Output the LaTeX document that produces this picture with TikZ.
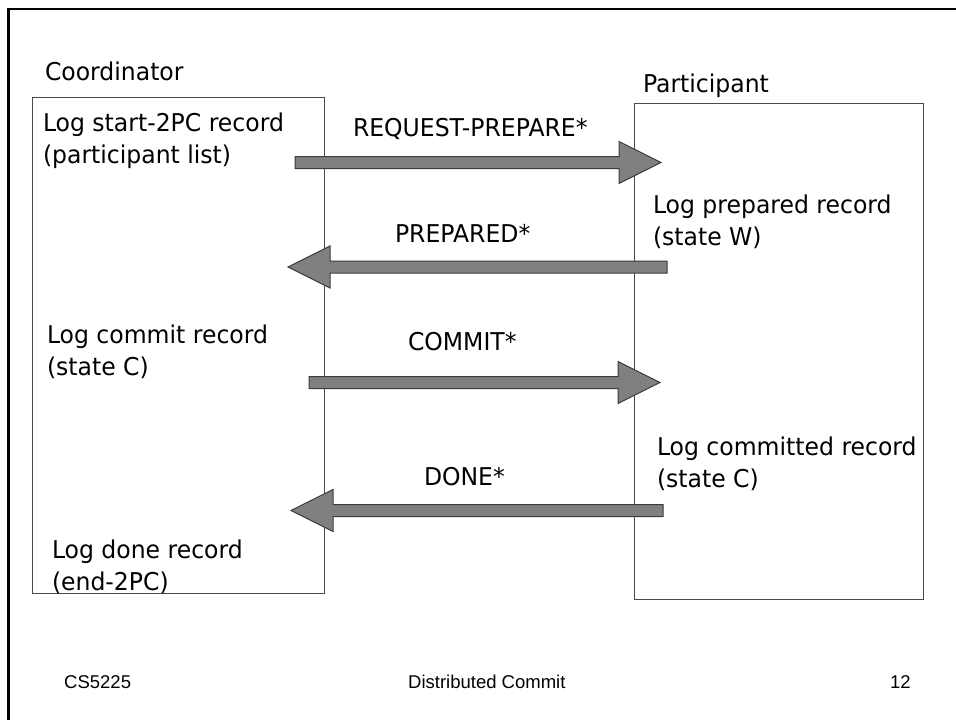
\documentclass[tikz,border=0pt]{standalone}
\usepackage{fontspec}
\setmainfont{DejaVu Sans}[FakeStretch=0.96]
\newfontfamily\footfont{Liberation Sans}
\usetikzlibrary{calc}

\definecolor{arrowfill}{HTML}{808080}
\definecolor{arrowline}{HTML}{3C3C3C}
\definecolor{boxline}{HTML}{4A4A4A}

% Thick horizontal block arrow from #1 to #2 (tip at #2)
\newcommand\blockarrow[2]{%
  \filldraw[msgarrow] let \p1=(#1), \p2=(#2), \n1={ifthenelse(\x2>\x1,42,-42)} in
    (\x1,{\y1+6pt}) -- ({\x2-(\n1)*1pt},{\y1+6pt}) -- ({\x2-(\n1)*1pt},{\y1+21pt})
    -- (\x2,\y1) -- ({\x2-(\n1)*1pt},{\y1-21pt}) -- ({\x2-(\n1)*1pt},{\y1-6pt})
    -- (\x1,{\y1-6pt}) -- cycle;}

\begin{document}
\begin{tikzpicture}[x=1pt,y=-1pt,
  lbl/.style={inner sep=0pt, outer sep=0pt, anchor=base west, align=left,
    font=\fontsize{24.5}{31.5}\selectfont},
  foot/.style={inner sep=0pt, anchor=base west, font=\footfont\fontsize{18.5}{22}\selectfont},
  lane/.style={draw=boxline, line width=0.9pt, inner sep=0pt, outer sep=0pt, anchor=north west},
  msgarrow/.style={fill=arrowfill, draw=arrowline, line width=1pt, line join=miter}]
  \useasboundingbox (0,0) rectangle (956,720);

  % slide frame (open to the right and bottom)
  \draw[line width=2.6pt] (962,8.8) -| (8.3,726);

  % the two lanes
  \node[lane, minimum width=292pt, minimum height=496pt] (coord) at (32,97) {};
  \node[lane, minimum width=289pt, minimum height=496pt] (part) at (634,103) {};

  % lane titles
  \node[lbl] (coordT) at (45,80) {Coordinator};
  \node[lbl] (partT) at (643,92) {Participant};

  % coordinator log steps (positioned by the baseline of their last line)
  \node[lbl] (c1) at (43,163) {Log start-2PC record\\(participant list)};
  \node[lbl] (c2) at (47,375) {Log commit record\\(state C)};
  \node[lbl] (c3) at (52,590) {Log done record\\(end-2PC)};

  % participant log steps
  \node[lbl] (p1) at (653,245) {Log prepared record\\(state W)};
  \node[lbl] (p2) at (657,487) {Log committed record\\(state C)};

  % message labels
  \node[lbl] (m1) at (353,136) {REQUEST-PREPARE*};
  \node[lbl] (m2) at (395,242) {PREPARED*};
  \node[lbl] (m3) at (408,350) {COMMIT*};
  \node[lbl] (m4) at (424,485) {DONE*};

  % message arrow ends
  \coordinate (rqA) at (295,162.5);  \coordinate (rqB) at (661,162.5);
  \coordinate (prA) at (667,267);    \coordinate (prB) at (288,267);
  \coordinate (cmA) at (309,382.5);  \coordinate (cmB) at (660,382.5);
  \coordinate (dnA) at (663,510.5);  \coordinate (dnB) at (291,510.5);

  \blockarrow{rqA}{rqB}
  \blockarrow{prA}{prB}
  \blockarrow{cmA}{cmB}
  \blockarrow{dnA}{dnB}

  % footer
  \node[foot] (fl) at (64,688) {CS5225};
  \node[foot] (fc) at (408,688) {Distributed Commit};
  \node[foot] (fr) at (890,688) {12};
\end{tikzpicture}
\end{document}
